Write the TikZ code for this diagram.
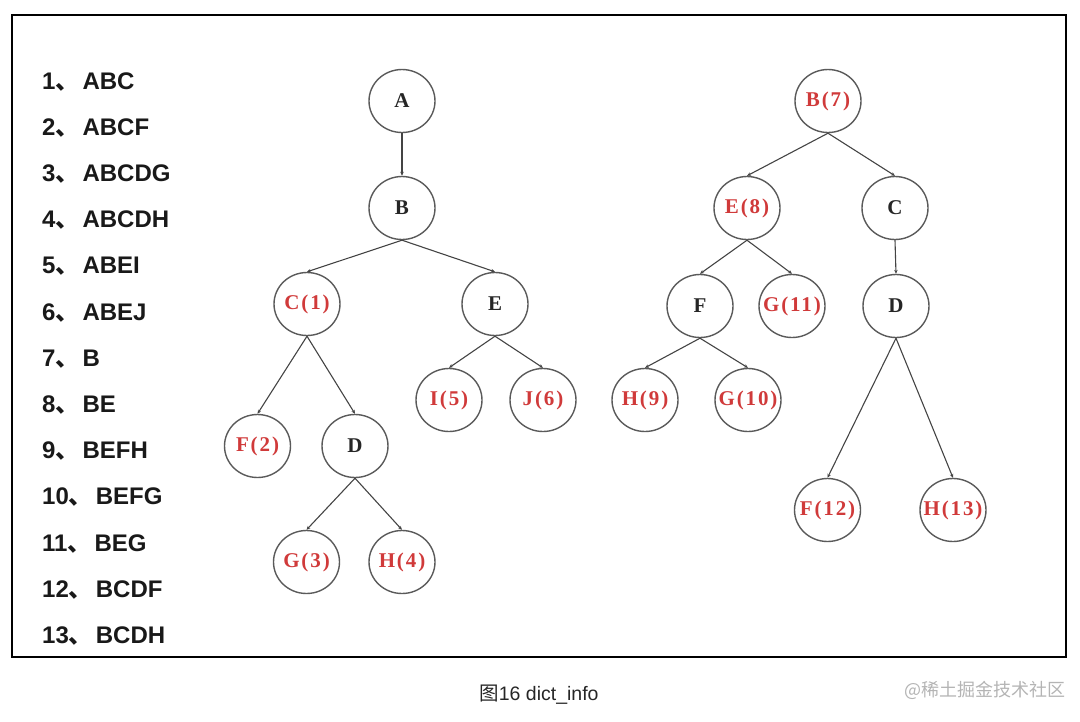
\documentclass[tikz,border=0pt]{standalone}
\usepackage{fontspec}
\setmainfont{Liberation Serif}
\setsansfont{Liberation Sans}
\newfontfamily\cjk{Noto Sans CJK SC}
\newfontfamily\cjkb{Noto Sans CJK SC Bold}
\usetikzlibrary{shapes.geometric,arrows.meta}
\definecolor{nodered}{HTML}{D03A3A}
\definecolor{ringgray}{HTML}{5A5A5A}
\definecolor{edgegray}{HTML}{444444}
\definecolor{markgray}{HTML}{B4B4B4}
\tikzset{
  tn/.style={ellipse, draw=ringgray, line width=1.4pt, minimum width=66pt, minimum height=63pt, inner sep=0pt,
    font=\fontsize{21}{24}\selectfont\bfseries\addfontfeature{LetterSpace=9}, text=black!85,
    execute at begin node={\hbox to 0pt\bgroup\hss}, execute at end node={\hss\egroup}},
  rn/.style={tn, text=nodered},
  edge/.style={draw=edgegray, line width=1.1pt, -{Stealth[length=4pt,width=3.5pt]}},
  item/.style={anchor=west, inner sep=0pt, font=\sffamily\bfseries\fontsize{24}{27}\selectfont, text=black!90},
}
\newcommand{\dun}{{\cjkb 、}\hspace{3pt}}
\begin{document}
\begin{tikzpicture}[x=1pt,y=-1pt]
\useasboundingbox (0,0) rectangle (1080,721);
\draw[line width=1.8pt, black] (12,15) rectangle (1066,657);

% list
\node[item] (l1) at (42,82) {1\dun ABC};
\node[item] (l2) at (42,128) {2\dun ABCF};
\node[item] (l3) at (42,174) {3\dun ABCDG};
\node[item] (l4) at (42,220) {4\dun ABCDH};
\node[item] (l5) at (42,266) {5\dun ABEI};
\node[item] (l6) at (42,313) {6\dun ABEJ};
\node[item] (l7) at (42,359) {7\dun B};
\node[item] (l8) at (42,405) {8\dun BE};
\node[item] (l9) at (42,451) {9\dun BEFH};
\node[item] (l10) at (42,497) {10\dun BEFG};
\node[item] (l11) at (42,544) {11\dun BEG};
\node[item] (l12) at (42,590) {12\dun BCDF};
\node[item] (l13) at (42,636) {13\dun BCDH};

% left tree
\node[tn] (A) at (402,101) {A};
\node[tn] (B) at (402,208) {B};
\node[rn] (C1) at (307,304) {C(1)};
\node[tn] (E) at (495,304) {E};
\node[rn] (F2) at (257.5,446) {F(2)};
\node[tn] (D) at (355,446) {D};
\node[rn] (G3) at (306.5,562) {G(3)};
\node[rn] (H4) at (402,562) {H(4)};
\node[rn] (I5) at (449,400) {I(5)};
\node[rn] (J6) at (543,400) {J(6)};

\draw[edge] (A.south) -- (B.north);
\draw[edge] (B.south) -- (C1.north);
\draw[edge] (B.south) -- (E.north);
\draw[edge] (C1.south) -- (F2.north);
\draw[edge] (C1.south) -- (D.north);
\draw[edge] (D.south) -- (G3.north);
\draw[edge] (D.south) -- (H4.north);
\draw[edge] (E.south) -- (I5.north);
\draw[edge] (E.south) -- (J6.north);

% right tree
\node[rn] (B7) at (828,101) {B(7)};
\node[rn] (E8) at (747,208) {E(8)};
\node[tn] (Cr) at (895,208) {C};
\node[tn] (Fr) at (700,306) {F};
\node[rn] (G11) at (792,306) {G(11)};
\node[tn] (Dr) at (896,306) {D};
\node[rn] (H9) at (645,400) {H(9)};
\node[rn] (G10) at (748,400) {G(10)};
\node[rn] (F12) at (827.5,510) {F(12)};
\node[rn] (H13) at (953,510) {H(13)};

\draw[edge] (B7.south) -- (E8.north);
\draw[edge] (B7.south) -- (Cr.north);
\draw[edge] (E8.south) -- (Fr.north);
\draw[edge] (E8.south) -- (G11.north);
\draw[edge] (Fr.south) -- (H9.north);
\draw[edge] (Fr.south) -- (G10.north);
\draw[edge] (Cr.south) -- (Dr.north);
\draw[edge] (Dr.south) -- (F12.north);
\draw[edge] (Dr.south) -- (H13.north);

% caption
\node[inner sep=0pt, font=\sffamily\fontsize{19.5}{22}\selectfont, text=black!85] (cap) at (539,695) {{\cjk 图}16 dict\_info};
\node[inner sep=0pt, anchor=east, font=\cjk\fontsize{18}{20}\selectfont, text=markgray] (wm) at (1066,690) {@稀土掘金技术社区};
\end{tikzpicture}
\end{document}
